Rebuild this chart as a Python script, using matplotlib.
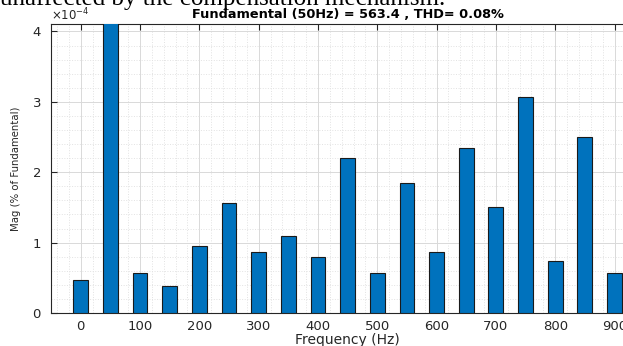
import numpy as np
import matplotlib.pyplot as plt
from matplotlib.ticker import MultipleLocator, ScalarFormatter

freq = [0, 50, 100, 150, 200, 250, 300, 350, 400, 450,
        500, 550, 600, 650, 700, 750, 800, 850, 900]
# magnitude in % of fundamental (fundamental itself is 100 %, clipped by ylim)
mag = [0.47e-4, 100.0, 0.57e-4, 0.38e-4, 0.95e-4, 1.56e-4, 0.87e-4, 1.10e-4,
       0.80e-4, 2.20e-4, 0.57e-4, 1.85e-4, 0.86e-4, 2.34e-4, 1.51e-4,
       3.07e-4, 0.745e-4, 2.50e-4, 0.57e-4]
xticks = [0, 100, 200, 300, 400, 500, 600, 700, 800, 900]

title_text = "Fundamental (50Hz) = 563.4 , THD= 0.08%"
caption_text = "unaffected by the compensation mechanism."

plt.rcParams['font.family'] = ['DejaVu Sans']

fig = plt.figure(figsize=(6.23, 3.46), dpi=100)
# axes run a little past the right edge of the figure (reference is cropped)
ax = fig.add_axes([0.082, 0.0954, 0.952, 0.834])

ax.bar(freq, mag, width=25, color='#0072BD', edgecolor='#1a1a1a',
       linewidth=0.8, zorder=3)

ax.set_xlim(-50, 950)
ax.set_ylim(0, 4.1e-4)
ax.set_xticks(xticks)
ax.xaxis.set_minor_locator(MultipleLocator(20))
ax.yaxis.set_major_locator(MultipleLocator(1e-4))
ax.yaxis.set_minor_locator(MultipleLocator(0.2e-4))

fmt = ScalarFormatter(useMathText=True)
fmt.set_powerlimits((0, 0))
ax.yaxis.set_major_formatter(fmt)
ax.yaxis.get_offset_text().set_fontsize(8.5)
ax.yaxis.get_offset_text().set_color('#707070')

ax.grid(which='major', color='#d9d9d9', linewidth=0.7, zorder=0)
ax.grid(which='minor', color='#e2e2e2', linestyle=':', linewidth=0.7, zorder=0)

ax.tick_params(which='both', direction='in', top=True, right=True,
               labelsize=9.5, colors='#262626')
ax.tick_params(which='major', length=4)
ax.tick_params(axis='x', pad=5)
ax.tick_params(axis='y', pad=7)
ax.tick_params(which='minor', length=0)
for s in ax.spines.values():
    s.set_color('#262626')
    s.set_linewidth(0.8)

ax.set_xlabel("Frequency (Hz)", fontsize=10, color='#262626', labelpad=0)
ax.set_ylabel("Mag (% of Fundamental)", fontsize=7.3, color='#262626', labelpad=8)
ax.set_title(title_text, fontsize=9.3, fontweight='bold', pad=4.5)

fig.text(0.0, 0.986, caption_text, fontsize=18, family='Liberation Serif',
         ha='left', va='baseline')

fig.savefig("out.png", dpi=100)
